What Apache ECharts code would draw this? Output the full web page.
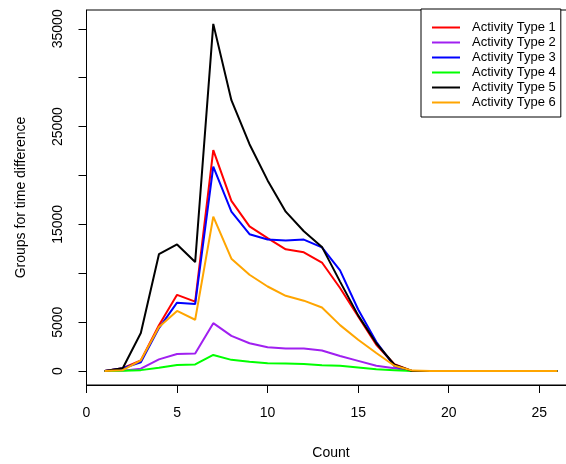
<!DOCTYPE html>
<html>
<head>
<meta charset="utf-8">
<script src="https://cdn.jsdelivr.net/npm/echarts@6/dist/echarts.min.js"></script>
<style>
  html, body { margin: 0; padding: 0; background: #fff; }
  #chart { width: 566px; height: 464px; }
</style>
</head>
<body>
<div id="chart"></div>
<script>
// Count values along the x axis
const counts = [1, 2, 3, 4, 5, 6, 7, 8, 9, 10, 11, 12, 13, 14, 15, 16, 17, 18, 19, 20, 21, 22, 23, 24, 25, 26];

// Groups for time difference, one array per activity type
const type1 = [0, 300, 1100, 4700, 7800, 7100, 22600, 17400, 14800, 13600, 12450, 12150, 11100, 8500, 5600, 2700, 700, 0, 0, 0, 0, 0, 0, 0, 0, 0];
const type2 = [0, 50, 250, 1200, 1750, 1800, 4900, 3600, 2850, 2450, 2300, 2300, 2100, 1550, 1050, 550, 300, 0, 0, 0, 0, 0, 0, 0, 0, 0];
const type3 = [0, 300, 900, 4400, 7000, 6850, 20900, 16300, 14000, 13450, 13350, 13450, 12650, 10300, 6300, 3000, 500, 0, 0, 0, 0, 0, 0, 0, 0, 0];
const type4 = [0, 30, 100, 350, 620, 680, 1650, 1150, 950, 800, 780, 720, 600, 560, 380, 200, 100, 0, 0, 0, 0, 0, 0, 0, 0, 0];
const type5 = [0, 300, 3900, 11950, 12950, 11150, 35500, 27700, 23200, 19500, 16300, 14300, 12700, 9150, 5700, 2850, 650, 0, 0, 0, 0, 0, 0, 0, 0, 0];
const type6 = [0, 100, 1100, 4500, 6150, 5250, 15800, 11500, 9850, 8650, 7700, 7200, 6500, 4700, 3200, 1850, 550, 50, 0, 0, 0, 0, 0, 0, 0, 0];

const seriesNames = ['Activity Type 1', 'Activity Type 2', 'Activity Type 3', 'Activity Type 4', 'Activity Type 5', 'Activity Type 6'];
const seriesValues = [type1, type2, type3, type4, type5, type6];
const seriesColors = ['#FF0000', '#A020F0', '#0000FF', '#00FF00', '#000000', '#FFA500'];

// Tick positions and the labels that are printed
const xTicks = [0, 5, 10, 15, 20, 25];
const yTicks = [0, 5000, 10000, 15000, 20000, 25000, 30000, 35000];
const yLabels = [0, 5000, 15000, 25000, 35000];

const font = 'Liberation Sans, Arial, sans-serif';

const chart = echarts.init(document.getElementById('chart'), null, { renderer: 'canvas' });

const series = seriesNames.map((name, i) => ({
  name: name,
  type: 'line',
  data: counts.map((c, j) => [c, seriesValues[i][j]]),
  symbol: 'none',
  lineStyle: { color: seriesColors[i], width: 2 },
  itemStyle: { color: seriesColors[i] },
  z: 2 + i
}));

chart.setOption({
  animation: false,
  backgroundColor: '#fff',
  grid: {
    left: 86.5,
    right: -9.5,
    top: 10,
    bottom: 79,
    outerBoundsMode: 'none',
    containLabel: false,
    show: true,
    borderColor: '#000',
    borderWidth: 1,
    backgroundColor: 'transparent'
  },
  legend: {
    data: seriesNames,
    orient: 'vertical',
    left: 421,
    top: 9,
    icon: 'rect',
    itemWidth: 28,
    itemHeight: 2,
    itemGap: 2,
    padding: [12, 5, 8, 11],
    borderColor: '#000',
    borderWidth: 1,
    backgroundColor: '#fff',
    textStyle: {
      fontFamily: font,
      fontSize: 13,
      lineHeight: 13,
      color: '#000',
      padding: [0, 0, 0, 7]
    }
  },
  xAxis: {
    type: 'value',
    min: 0,
    max: 27,
    name: 'Count',
    nameLocation: 'middle',
    nameGap: 61,
    nameTextStyle: { fontFamily: font, fontSize: 14, color: '#000' },
    axisLine: { show: true, onZero: false, lineStyle: { color: '#000', width: 1 } },
    axisTick: { show: true, length: 8, customValues: xTicks, lineStyle: { color: '#000' } },
    axisLabel: { customValues: xTicks, margin: 21, fontFamily: font, fontSize: 14, color: '#000' },
    splitLine: { show: false }
  },
  yAxis: {
    type: 'value',
    min: -1420,
    max: 36920,
    name: 'Groups for time difference',
    nameLocation: 'middle',
    nameGap: 58,
    nameTextStyle: { fontFamily: font, fontSize: 14, color: '#000' },
    axisLine: { show: true, onZero: false, lineStyle: { color: '#000', width: 1 } },
    axisTick: { show: true, length: 8, customValues: yTicks, lineStyle: { color: '#000' } },
    axisLabel: {
      customValues: yLabels,
      rotate: 90,
      margin: 21,
      fontFamily: font,
      fontSize: 14,
      color: '#000',
      formatter: (v) => String(v)
    },
    splitLine: { show: false }
  },
  series: series
});
</script>
</body>
</html>
